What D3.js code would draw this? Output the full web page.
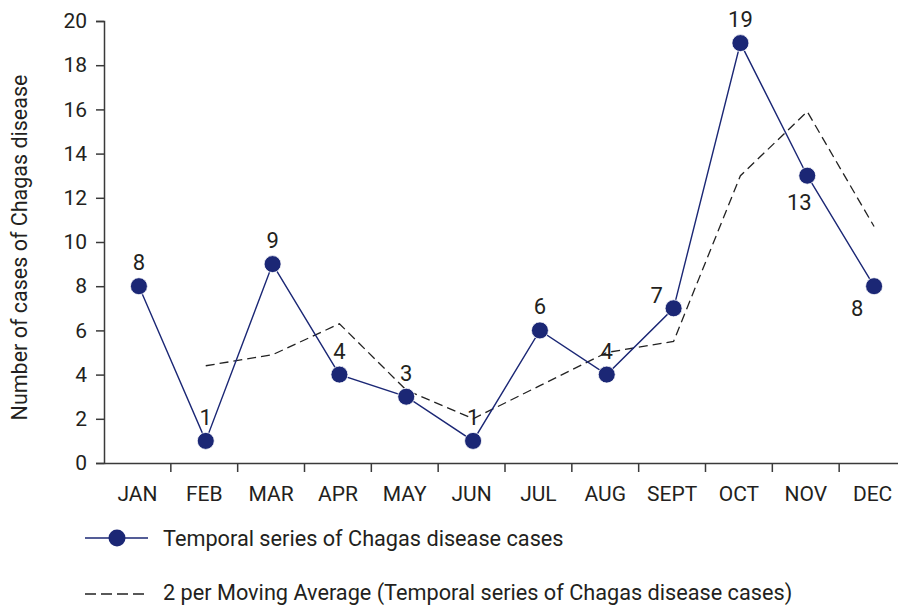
<!DOCTYPE html>
<html>
<head>
<meta charset="utf-8">
<script src="https://cdn.jsdelivr.net/npm/d3@7"></script>
<style>
  body { margin: 0; background: #fff; }
  text { font-family: Roboto, "Noto Sans", sans-serif; fill: #231f20; }
</style>
</head>
<body>
<div id="chart"></div>
<script>
const months = ["JAN", "FEB", "MAR", "APR", "MAY", "JUN", "JUL", "AUG", "SEPT", "OCT", "NOV", "DEC"];
const cases = [8, 1, 9, 4, 3, 1, 6, 4, 7, 19, 13, 8];
// moving average starts at FEB
const avgMonths = ["FEB", "MAR", "APR", "MAY", "JUN", "JUL", "AUG", "SEPT", "OCT", "NOV", "DEC"];
const avgValues = [4.4, 4.9, 6.3, 3.3, 2.0, 3.5, 5.0, 5.5, 13.0, 15.9, 10.7];
const yTicks = [0, 2, 4, 6, 8, 10, 12, 14, 16, 18, 20];
const seriesName = "Temporal series of Chagas disease cases";
const avgName = "2 per Moving Average (Temporal series of Chagas disease cases)";

const width = 898;
const height = 606;
const navy = "#1b2775";

const svg = d3.select("#chart")
    .append("svg")
    .attr("width", width)
    .attr("height", height);

const x = d3.scaleBand()
    .domain(months)
    .range([104, 906]);

const y = d3.scaleLinear()
    .domain([0, 20])
    .range([463, 21]);

const cx = m => x(m) + x.bandwidth() / 2 + 1.5;

// Y axis
const yAxis = svg.append("g")
    .attr("transform", "translate(104,0)")
    .call(d3.axisLeft(y).tickValues(yTicks).tickSize(8).tickPadding(9));
yAxis.select(".domain").attr("stroke", "#3a3a3a").attr("stroke-width", 1.5);
yAxis.selectAll(".tick line").attr("stroke", "#3a3a3a").attr("stroke-width", 1.5);
yAxis.selectAll(".tick text")
    .style("font-size", "21px")
    .attr("fill", "#231f20");

// X axis
const xAxis = svg.append("g")
    .attr("transform", "translate(0,463)")
    .call(d3.axisBottom(x).tickSize(0).tickPadding(23));
xAxis.select(".domain").attr("stroke", "#3a3a3a").attr("stroke-width", 1.5);
xAxis.selectAll(".tick text")
    .style("font-size", "21px")
    .attr("fill", "#231f20");

// category boundaries as ticks
svg.append("g")
    .selectAll("line")
    .data(months.slice(1))
    .join("line")
    .attr("x1", d => x(d))
    .attr("x2", d => x(d))
    .attr("y1", 463)
    .attr("y2", 472)
    .attr("stroke", "#3a3a3a")
    .attr("stroke-width", 1.5);

svg.append("text")
    .attr("transform", `translate(27,${(75 + 420) / 2}) rotate(-90)`)
    .attr("text-anchor", "middle")
    .style("font-size", "21.5px")
    .text("Number of cases of Chagas disease");

// Moving average
svg.append("path")
    .datum(avgMonths.map((m, i) => [m, avgValues[i]]))
    .attr("fill", "none")
    .attr("stroke", "#222")
    .attr("stroke-width", 1.3)
    .attr("stroke-dasharray", "9,5")
    .attr("d", d3.line().x(d => cx(d[0])).y(d => y(d[1])));

// Series
const pts = months.map((m, i) => ({ m, v: cases[i] }));
svg.append("path")
    .datum(pts)
    .attr("fill", "none")
    .attr("stroke", navy)
    .attr("stroke-width", 1.4)
    .attr("d", d3.line().x(d => cx(d.m)).y(d => y(d.v)));

svg.append("g")
    .selectAll("circle")
    .data(pts)
    .join("circle")
    .attr("cx", d => cx(d.m))
    .attr("cy", d => y(d.v))
    .attr("r", 8.5)
    .attr("fill", navy)
    .attr("stroke", "#fff")
    .attr("stroke-width", 0.8);

// Data labels: most above, a few shifted
const labelOffset = { SEPT: [-17, -5], NOV: [-8, 34], DEC: [-17, 30] };
svg.append("g")
    .selectAll("text")
    .data(pts)
    .join("text")
    .attr("x", d => cx(d.m) + (labelOffset[d.m] ? labelOffset[d.m][0] : 0))
    .attr("y", d => y(d.v) + (labelOffset[d.m] ? labelOffset[d.m][1] : -16))
    .attr("text-anchor", "middle")
    .style("font-size", "22px")
    .text(d => d.v);

// Legend
const legend = svg.append("g");
legend.append("line")
    .attr("x1", 85).attr("x2", 148)
    .attr("y1", 538).attr("y2", 538)
    .attr("stroke", navy).attr("stroke-width", 1.4);
legend.append("circle")
    .attr("cx", 117).attr("cy", 538).attr("r", 8.5)
    .attr("fill", navy);
legend.append("text")
    .attr("x", 163).attr("y", 546)
    .style("font-size", "21.7px")
    .text(seriesName);

legend.append("line")
    .attr("x1", 85).attr("x2", 148)
    .attr("y1", 594).attr("y2", 594)
    .attr("stroke", "#222").attr("stroke-width", 1.3)
    .attr("stroke-dasharray", "11,5");
legend.append("text")
    .attr("x", 163).attr("y", 600)
    .style("font-size", "21.7px")
    .text(avgName);
</script>
</body>
</html>
